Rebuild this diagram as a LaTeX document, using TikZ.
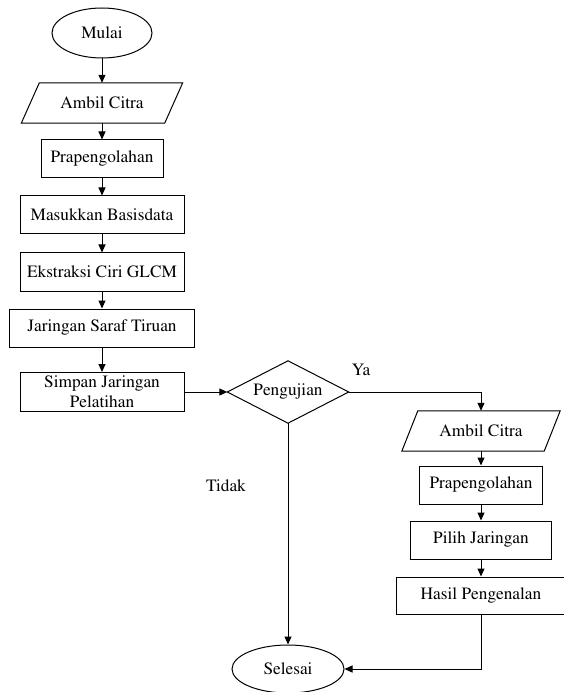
\documentclass[tikz,border=0pt]{standalone}
\usepackage[T1]{fontenc}
\usepackage{mathptmx}
\usetikzlibrary{shapes.geometric,arrows.meta}
\begin{document}
\begin{tikzpicture}[x=1pt,y=-1pt,
  every node/.style={font=\fontsize{17.3}{20}\selectfont},
  base/.style={draw, line width=1pt, inner sep=0pt, align=center},
  proc/.style={base, rectangle, minimum height=38pt},
  term/.style={base, ellipse, minimum height=50pt},
  io/.style={rectangle, inner sep=0pt, minimum height=40pt},
  dec/.style={rectangle, inner sep=0pt, minimum width=121pt, minimum height=62pt},
  ln/.style={line width=1pt},
  arr/.style={line width=1pt, -{Triangle[length=8pt,width=7pt]}}]
\useasboundingbox (0,0) rectangle (563,692);

% left column
\node[term, minimum width=100pt] (mulai) at (102,33) {Mulai};
\node[io, minimum width=143pt] (a1) at (102,103) {Ambil Citra};
\draw[ln] ([xshift=9pt]a1.north west) -- ([xshift=9pt]a1.north east)
  -- ([xshift=-9pt]a1.south east) -- ([xshift=-9pt]a1.south west) -- cycle;
\node[proc, minimum width=122pt] (p1) at (102,159) {Prapengolahan};
\node[proc, minimum width=164pt] (mb) at (102,215) {Masukkan Basisdata};
\node[proc, minimum width=164pt] (ek) at (102,272) {Ekstraksi Ciri GLCM};
\node[proc, minimum width=185pt] (jst) at (102,328) {Jaringan Saraf Tiruan};
\node[proc, minimum width=164pt, minimum height=39pt] (sj) at (102,392) {Simpan Jaringan\\Pelatihan};

% decision
\node[dec] (d) at (288,392) {Pengujian};
\draw[ln] (d.north) -- (d.east) -- (d.south) -- (d.west) -- cycle;

% right column
\node[io, minimum width=142pt] (a2) at (481,431) {Ambil Citra};
\draw[ln] ([xshift=8pt]a2.north west) -- ([xshift=8pt]a2.north east)
  -- ([xshift=-8pt]a2.south east) -- ([xshift=-8pt]a2.south west) -- cycle;
\node[proc, minimum width=123pt] (p2) at (481,485) {Prapengolahan};
\node[proc, minimum width=141pt] (pj) at (481,540) {Pilih Jaringan};
\node[proc, minimum width=170pt, minimum height=37pt] (hp) at (481,595.5) {Hasil Pengenalan};

\node[term, minimum width=112pt, minimum height=48pt] (sel) at (288,669) {Selesai};

% labels
\node (ya) at (361,370) {Ya};
\node (tidak) at (226,486) {Tidak};

% connectors
\draw[arr] (mulai.south) -- (a1.north);
\draw[arr] (a1.south) -- (p1.north);
\draw[arr] (p1.south) -- (mb.north);
\draw[arr] (mb.south) -- (ek.north);
\draw[arr] (ek.south) -- (jst.north);
\draw[arr] (jst.south) -- (sj.north);
\draw[arr] (sj.east) -- (d.west);
\draw[arr] (d.east) -| (a2.north);
\draw[arr] (a2.south) -- (p2.north);
\draw[arr] (p2.south) -- (pj.north);
\draw[arr] (pj.south) -- (hp.north);
\draw[arr] (d.south) -- (sel.north);
\draw[arr] (hp.south) |- (sel.east);
\end{tikzpicture}
\end{document}
